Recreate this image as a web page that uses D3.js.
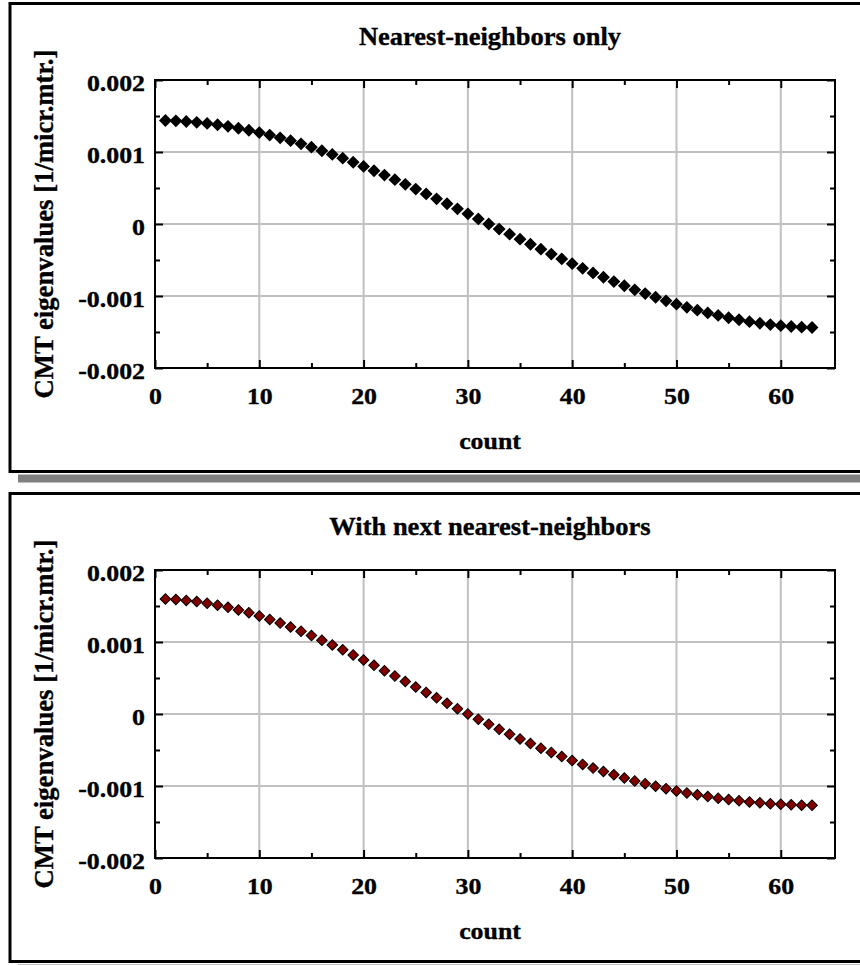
<!DOCTYPE html>
<html>
<head>
<meta charset="utf-8">
<script src="https://cdn.jsdelivr.net/npm/d3@7"></script>
<style>
  html, body { margin: 0; padding: 0; background: #fff; }
  svg { display: block; font-family: "Liberation Serif", "Times New Roman", serif; font-weight: bold; }
  svg text { stroke: #000; stroke-width: 0.35px; }
</style>
</head>
<body>
<svg id="chart" width="860" height="965"></svg>
<script>
// eigenvalue index on the x axis
const counts = [1, 2, 3, 4, 5, 6, 7, 8, 9, 10, 11, 12, 13, 14, 15, 16, 17, 18, 19, 20,
  21, 22, 23, 24, 25, 26, 27, 28, 29, 30, 31, 32, 33, 34, 35, 36, 37, 38, 39, 40,
  41, 42, 43, 44, 45, 46, 47, 48, 49, 50, 51, 52, 53, 54, 55, 56, 57, 58, 59, 60,
  61, 62, 63];

// CMT eigenvalues, nearest-neighbors only
const nnValues = [0.001438, 0.001433, 0.001424, 0.001412, 0.001397, 0.001378, 0.001356, 0.001330,
  0.001302, 0.001270, 0.001235, 0.001197, 0.001157, 0.001113, 0.001067, 0.001018,
  0.000967, 0.000914, 0.000858, 0.000800, 0.000740, 0.000679, 0.000616, 0.000551,
  0.000485, 0.000418, 0.000350, 0.000281, 0.000211, 0.000141, 0.000071, 0.000000,
  -0.000071, -0.000141, -0.000211, -0.000281, -0.000350, -0.000418, -0.000485, -0.000551,
  -0.000616, -0.000679, -0.000740, -0.000800, -0.000858, -0.000914, -0.000967, -0.001018,
  -0.001067, -0.001113, -0.001157, -0.001197, -0.001235, -0.001270, -0.001302, -0.001330,
  -0.001356, -0.001378, -0.001397, -0.001412, -0.001424, -0.001433, -0.001438];

// CMT eigenvalues, with next nearest-neighbors
const nnnValues = [0.001598, 0.001590, 0.001578, 0.001561, 0.001539, 0.001512, 0.001481, 0.001446,
  0.001406, 0.001362, 0.001314, 0.001263, 0.001208, 0.001150, 0.001089, 0.001026,
  0.000960, 0.000891, 0.000821, 0.000749, 0.000676, 0.000602, 0.000527, 0.000451,
  0.000375, 0.000300, 0.000224, 0.000149, 0.000074, 0.000001, -0.000072, -0.000143,
  -0.000213, -0.000281, -0.000347, -0.000411, -0.000474, -0.000534, -0.000591, -0.000647,
  -0.000700, -0.000751, -0.000799, -0.000845, -0.000889, -0.000929, -0.000968, -0.001004,
  -0.001037, -0.001068, -0.001097, -0.001123, -0.001147, -0.001169, -0.001189, -0.001206,
  -0.001221, -0.001234, -0.001245, -0.001254, -0.001261, -0.001266, -0.001269];

const xTicks = [0, 10, 20, 30, 40, 50, 60];
const xTickLabels = ["0", "10", "20", "30", "40", "50", "60"];
const xMinorTicks = [5, 15, 25, 35, 45, 55];
const yTicks = [-0.002, -0.001, 0, 0.001, 0.002];
const yTickLabels = ["-0.002", "-0.001", "0", "0.001", "0.002"];
const yMinorTicks = [-0.0015, -0.0005, 0.0005, 0.0015];

const titles = ["Nearest-neighbors only", "With next nearest-neighbors"];
const markerFills = ["#000000", "#800000"];
const markerStrokes = [1.6, 1];
const xLabel = "count";
const yLabel = "CMT eigenvalues [1/micr.mtr.]";

const config = {
  stretch: 1.1,     // glyphs in the picture are a bit wider than Times metrics
  tickFont: 23.5,
  panelTops: [3.5, 493.5],
  plot: { left: 155, right: 835, top: 76.5, bottom: 364.5 },
};

const svg = d3.select("#chart");

const x = d3.scaleLinear().domain([0, 65.2]).range([config.plot.left, config.plot.right]);
const y = d3.scaleLinear().domain([-0.002, 0.002]).range([config.plot.bottom, config.plot.top]);

const series = [nnValues, nnnValues];

series.forEach((values, i) => drawPanel(i, values));

function drawPanel(i, values) {
  const k = config.stretch;
  const g = svg.append("g").attr("transform", `translate(0,${config.panelTops[i]})`);

  // drop shadow + frame
  g.append("rect")
    .attr("x", 18).attr("y", 471).attr("width", 900).attr("height", 8)
    .attr("fill", "#808080");
  g.append("rect")
    .attr("x", 10).attr("y", 0).attr("width", 870).attr("height", 468)
    .attr("fill", "#fff").attr("stroke", "#000").attr("stroke-width", 3);

  // grid
  const grid = g.append("g").attr("stroke", "#c0c0c0").attr("stroke-width", 2);
  grid.selectAll("line.v")
    .data(xTicks.filter((d) => d > 0))
    .join("line").classed("v", true)
    .attr("x1", (d) => x(d)).attr("x2", (d) => x(d))
    .attr("y1", y(0.002)).attr("y2", y(-0.002));
  grid.selectAll("line.h")
    .data(yTicks.slice(1, -1))
    .join("line").classed("h", true)
    .attr("x1", x(0)).attr("x2", x(65.2))
    .attr("y1", (d) => y(d)).attr("y2", (d) => y(d));

  // axes, ticks pointing inwards
  const addAxis = (axis, transform) =>
    g.append("g").attr("transform", transform).call(axis)
      .attr("font-family", null).attr("font-size", null)
      .call((a) => a.select(".domain").remove())
      .call((a) => a.selectAll(".tick line").attr("stroke", "#000").attr("stroke-width", 2));

  const bottomY = `translate(0,${y(-0.002)})`;
  const topY = `translate(0,${y(0.002)})`;
  const leftX = `translate(${x(0)},0)`;
  const rightX = `translate(${x(65.2)},0)`;

  const xAxis = addAxis(
    d3.axisBottom(x).tickValues(xTicks).tickSize(-8).tickSizeOuter(0)
      .tickFormat((d, j) => xTickLabels[j]),
    bottomY
  );
  xAxis.selectAll(".tick text")
    .attr("fill", "#000").attr("font-size", config.tickFont)
    .attr("y", 36).attr("dy", null).attr("x", 0)
    .attr("transform", `scale(${k},1)`);

  const yAxis = addAxis(
    d3.axisLeft(y).tickValues(yTicks).tickSize(-8).tickSizeOuter(0)
      .tickFormat((d, j) => yTickLabels[j]),
    leftX
  );
  yAxis.selectAll(".tick text")
    .attr("fill", "#000").attr("font-size", config.tickFont)
    .attr("x", -10 / k).attr("y", 10).attr("dy", null)
    .attr("transform", `scale(${k},1)`);

  addAxis(d3.axisTop(x).tickValues(xTicks).tickSize(-8).tickFormat(""), topY);
  addAxis(d3.axisRight(y).tickValues(yTicks).tickSize(-8).tickFormat(""), rightX);
  addAxis(d3.axisBottom(x).tickValues(xMinorTicks).tickSize(-5).tickFormat(""), bottomY);
  addAxis(d3.axisTop(x).tickValues(xMinorTicks).tickSize(-5).tickFormat(""), topY);
  addAxis(d3.axisLeft(y).tickValues(yMinorTicks).tickSize(-5).tickFormat(""), leftX);
  addAxis(d3.axisRight(y).tickValues(yMinorTicks).tickSize(-5).tickFormat(""), rightX);

  // plot box
  g.append("rect")
    .attr("x", x(0)).attr("y", y(0.002))
    .attr("width", x(65.2) - x(0)).attr("height", y(-0.002) - y(0.002))
    .attr("fill", "none").attr("stroke", "#000").attr("stroke-width", 2);

  // markers
  const diamond = d3.symbol(d3.symbolSquare, 56);
  g.append("g").selectAll("path")
    .data(counts)
    .join("path")
    .attr("transform", (d, j) => `translate(${x(d)},${y(values[j])}) rotate(45)`)
    .attr("d", diamond)
    .attr("fill", markerFills[i])
    .attr("stroke", "#000")
    .attr("stroke-width", markerStrokes[i]);

  // texts
  g.append("text")
    .attr("transform", `translate(490,41) scale(1.06,1)`)
    .attr("text-anchor", "middle").attr("font-size", 25)
    .text(titles[i]);

  g.append("text")
    .attr("transform", `translate(490,${y(-0.002) + 81}) scale(${k},1)`)
    .attr("text-anchor", "middle").attr("font-size", config.tickFont)
    .text(xLabel);

  g.append("text")
    .attr("transform", `translate(53,${(y(0.002) + y(-0.002)) / 2}) rotate(-90)`)
    .attr("text-anchor", "middle").attr("font-size", 26.7)
    .text(yLabel);
}
</script>
</body>
</html>
